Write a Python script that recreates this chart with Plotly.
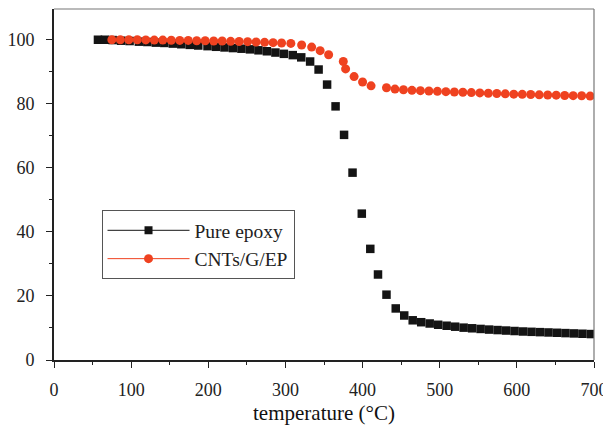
import plotly.graph_objects as go

# Pure epoxy (black squares)
epoxy_temp = [57, 66, 76, 87, 98, 110, 121, 132, 143, 154, 165, 176, 187, 199,
              210, 221, 232, 243, 254, 265, 276, 287, 298, 309.5, 320.5, 332,
              343, 354, 365, 376, 387, 399, 410, 420, 431, 443, 454, 465, 476,
              487, 498, 509, 520, 531, 542, 553, 564, 575, 586, 597, 608, 619,
              630, 641, 652, 663, 674, 685, 696]
epoxy_mass = [100.0, 100.0, 99.9, 99.7, 99.6, 99.4, 99.3, 99.1, 99.0, 98.8, 98.6,
              98.4, 98.2, 98.0, 97.8, 97.6, 97.4, 97.2, 97.0, 96.7, 96.4, 96.0,
              95.6, 95.2, 94.5, 93.2, 90.7, 86.0, 79.2, 70.3, 58.5, 45.7, 34.7,
              26.7, 20.4, 16.1, 13.9, 12.4, 11.8, 11.4, 11.0, 10.7, 10.4, 10.1,
              9.9, 9.7, 9.5, 9.35, 9.2, 9.05, 8.9, 8.8, 8.7, 8.6, 8.5, 8.4, 8.3,
              8.2, 8.1]

# CNTs/G/EP (red circles)
cnt_temp = [75, 86, 97, 108, 119, 130, 141, 152, 163, 174, 185, 196, 207, 218,
            229, 240, 251, 262, 273, 284, 295, 307, 321, 334, 345, 356, 375,
            378, 389, 400, 411, 431, 442, 453, 464, 475, 486, 497, 508, 519,
            530, 541, 552, 563, 574, 585, 596, 607, 618, 629, 640, 651, 662,
            673, 684, 695]
cnt_mass = [100.0, 100.0, 100.0, 100.0, 99.95, 99.9, 99.9, 99.85, 99.8, 99.8,
            99.7, 99.7, 99.6, 99.6, 99.5, 99.45, 99.4, 99.3, 99.2, 99.1, 99.0,
            98.85, 98.35, 97.7, 96.6, 95.3, 93.2, 90.9, 88.5, 86.8, 85.6, 85.0,
            84.6, 84.4, 84.2, 84.1, 84.0, 83.9, 83.8, 83.7, 83.6, 83.5, 83.4,
            83.3, 83.2, 83.1, 83.0, 82.95, 82.9, 82.8, 82.75, 82.7, 82.6, 82.55,
            82.5, 82.4]

series_names = ["Pure epoxy", "CNTs/G/EP"]
x_ticks = [0, 100, 200, 300, 400, 500, 600, 700]
y_ticks = [0, 20, 40, 60, 80, 100]

BLACK = "#141414"
RED = "#EF4220"
FONT = "Liberation Serif"

fig = go.Figure()

fig.add_trace(go.Scatter(x=epoxy_temp, y=epoxy_mass, mode="markers",
                         marker=dict(symbol="square", size=8.5, color=BLACK),
                         showlegend=False, cliponaxis=True))
fig.add_trace(go.Scatter(x=cnt_temp, y=cnt_mass, mode="markers",
                         marker=dict(symbol="circle", size=9, color=RED),
                         showlegend=False, cliponaxis=True))

# legend-only entries (line + marker)
fig.add_trace(go.Scatter(x=[None], y=[None], mode="lines+markers",
                         name=series_names[0], legendgroup="a",
                         line=dict(color=BLACK, width=1),
                         marker=dict(symbol="square", size=8, color=BLACK)))
fig.add_trace(go.Scatter(x=[None], y=[None], mode="lines+markers",
                         name=series_names[1], legendgroup="b",
                         line=dict(color=RED, width=1),
                         marker=dict(symbol="circle", size=9, color=RED)))

axis_common = dict(
    showgrid=False, zeroline=False, ticks="outside", ticklen=6, tickwidth=1.2,
    tickcolor="#222", linecolor="#222", linewidth=1.8, showline=True,
    mirror=False, automargin=False,
    tickfont=dict(family=FONT, size=18, color="#222"),
)

fig.update_xaxes(range=[0, 700], tickvals=x_ticks,
                 minor=dict(dtick=50, ticklen=3.5, ticks="outside",
                            tickcolor="#222", tickwidth=1.2),
                 ticklabelstandoff=6,
                 title=dict(text="temperature (°C)",
                            font=dict(family=FONT, size=21, color="#111"),
                            standoff=8),
                 **axis_common)
fig.update_yaxes(range=[0, 109.6], tickvals=y_ticks,
                 minor=dict(dtick=10, ticklen=3.5, ticks="outside",
                            tickcolor="#222", tickwidth=1.2),
                 ticklabelstandoff=8,
                 **axis_common)

# thin grey top and right frame lines
fig.add_shape(type="line", xref="paper", yref="paper", x0=0, x1=1, y0=1, y1=1,
              line=dict(color="#777", width=1.2))
fig.add_shape(type="line", xref="paper", yref="paper", x0=1, x1=1, y0=0, y1=1,
              line=dict(color="#777", width=1.2))

# page has an 8px body margin, so the figure is drawn 8px smaller and shifted
fig.update_layout(
    width=603, height=417,
    margin=dict(l=46, r=17, t=1, b=65),
    plot_bgcolor="white", paper_bgcolor="white",
    legend=dict(x=0.088, y=0.427, xanchor="left", yanchor="top",
                bgcolor="white", bordercolor="#555", borderwidth=1,
                font=dict(family=FONT, size=19.5, color="#222"),
                itemwidth=82,
                traceorder="grouped", tracegroupgap=0),
)

fig.write_html("out.html")
